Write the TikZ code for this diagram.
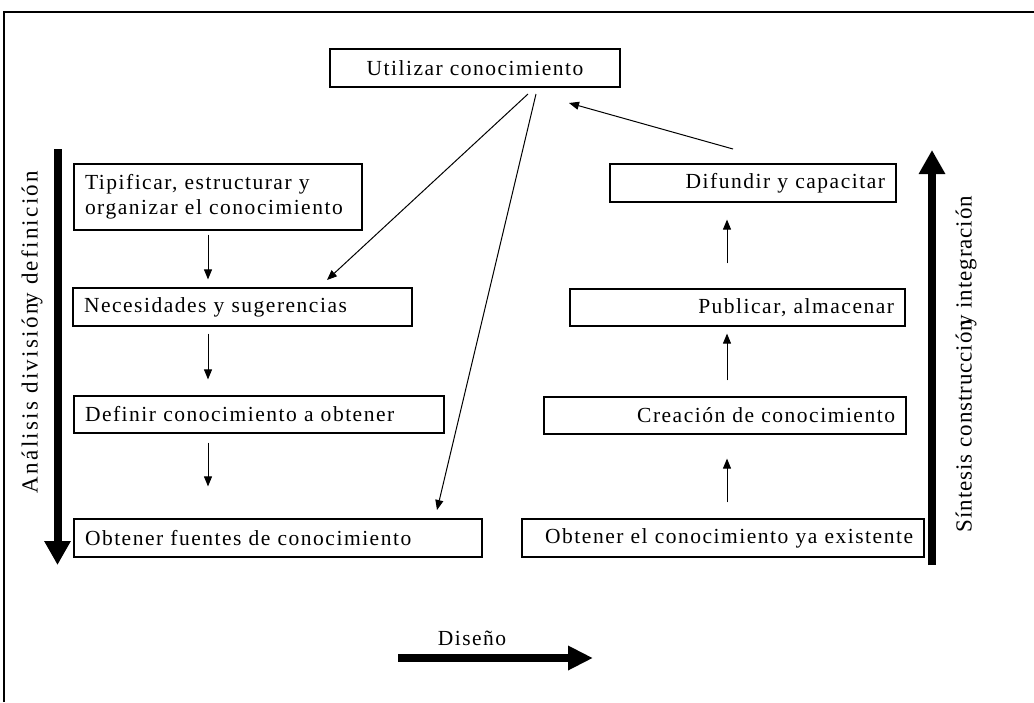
\documentclass[tikz,border=0pt]{standalone}
\usepackage{fontspec}
\setmainfont{Liberation Serif}[LetterSpace=7]
\newfontfamily\lblfontA{Liberation Serif}[LetterSpace=10]
\newfontfamily\lblfontB{Liberation Serif}[LetterSpace=4]
\usetikzlibrary{arrows.meta}
\newcommand{\fs}{\fontsize{21.5}{25}\selectfont}
\newcommand{\fl}{\fontsize{23}{27}\selectfont}
\begin{document}
\begin{tikzpicture}[x=1pt,y=-1pt,
  box/.style={draw, line width=1.2pt, minimum height=38pt, inner ysep=0pt, font=\fs},
  lbox/.style={box, align=left, inner xsep=11pt},
  rbox/.style={box, align=right, inner xsep=11pt},
  arr/.style={line width=1pt, -{Triangle[length=10pt,width=8pt]}},
  big/.style={line width=8pt, -{Triangle[length=24pt,width=25pt]}},
  lbl/.style={inner sep=0pt}]
\useasboundingbox (0,0) rectangle (1034,702);
\draw[line width=2pt] (4,702) -- (4,12) -- (1034,12);
% top
\node[box, minimum width=290pt] (use) at (475,68) {Utilizar conocimiento};
% left column
\node[lbox, text width=266pt, minimum height=66pt] (tip) at (218,197) {Tipificar, estructurar y\\organizar el conocimiento};
\node[lbox, text width=317pt] (nec) at (242.5,307) {Necesidades y sugerencias};
\node[lbox, text width=348pt, minimum height=37pt] (def) at (259,414.5) {Definir conocimiento a obtener};
\node[lbox, text width=386pt] (obf) at (278,538) {Obtener fuentes de conocimiento};
% right column
\node[rbox, text width=264pt] (dif) at (753,183) {Difundir y capacitar};
\node[rbox, text width=313pt, minimum height=37pt] (pub) at (737.5,307.5) {Publicar, almacenar};
\node[rbox, text width=340pt, minimum height=37pt] (cre) at (725,415.5) {Creaci\'on de conocimiento};
\node[rbox, text width=380pt] (obe) at (723,538) {Obtener el conocimiento ya existente};
% column coordinates
\coordinate (cl) at (208,0);
\coordinate (cr) at (727,0);
\draw[arr, shorten <=4pt, shorten >=8pt] (tip.south -| cl) -- (nec.north -| cl);
\draw[arr, shorten <=7pt, shorten >=16pt] (nec.south -| cl) -- (def.north -| cl);
\draw[arr, shorten <=9pt, shorten >=32pt] (def.south -| cl) -- (obf.north -| cl);
\draw[arr, shorten <=25pt, shorten >=17pt] (pub.north -| cr) -- (dif.south -| cr);
\draw[arr, shorten <=16pt, shorten >=7pt] (cre.north -| cr) -- (pub.south -| cr);
\draw[arr, shorten <=16pt, shorten >=24pt] (obe.north -| cr) -- (cre.south -| cr);
% diagonal connectors
\coordinate (u1) at (528,94);
\coordinate (u2) at (536,94);
\coordinate (n1) at (327,280);
\coordinate (o1) at (437,510);
\coordinate (d1) at (733,149);
\coordinate (u3) at (569,103);
\draw[arr] (u1) -- (n1);
\draw[arr] (u2) -- (o1);
\draw[arr] (d1) -- (u3);
% thick side arrows
\coordinate (la) at (57.5,149);
\coordinate (lb) at (57.5,565);
\coordinate (ra) at (932,565);
\coordinate (rb) at (932,150);
\draw[big] (la) -- (lb);
\draw[big] (ra) -- (rb);
\node[lbl, rotate=90, font=\fl\lblfontA] (ll) at (32,332) {An\'alisis divisi\'on\kern-0.05em y definici\'on};
\node[lbl, rotate=90, font=\fl\lblfontB] (rl) at (966,364) {S\'intesis construcci\'on\kern-0.3em y integraci\'on};
% bottom
\coordinate (da) at (398,658);
\coordinate (db) at (593,658);
\draw[big, -{Triangle[length=25pt,width=23pt]}] (da) -- (db);
\node[lbl, font=\fs] (dl) at (472,638) {Dise\~no};
\end{tikzpicture}
\end{document}
